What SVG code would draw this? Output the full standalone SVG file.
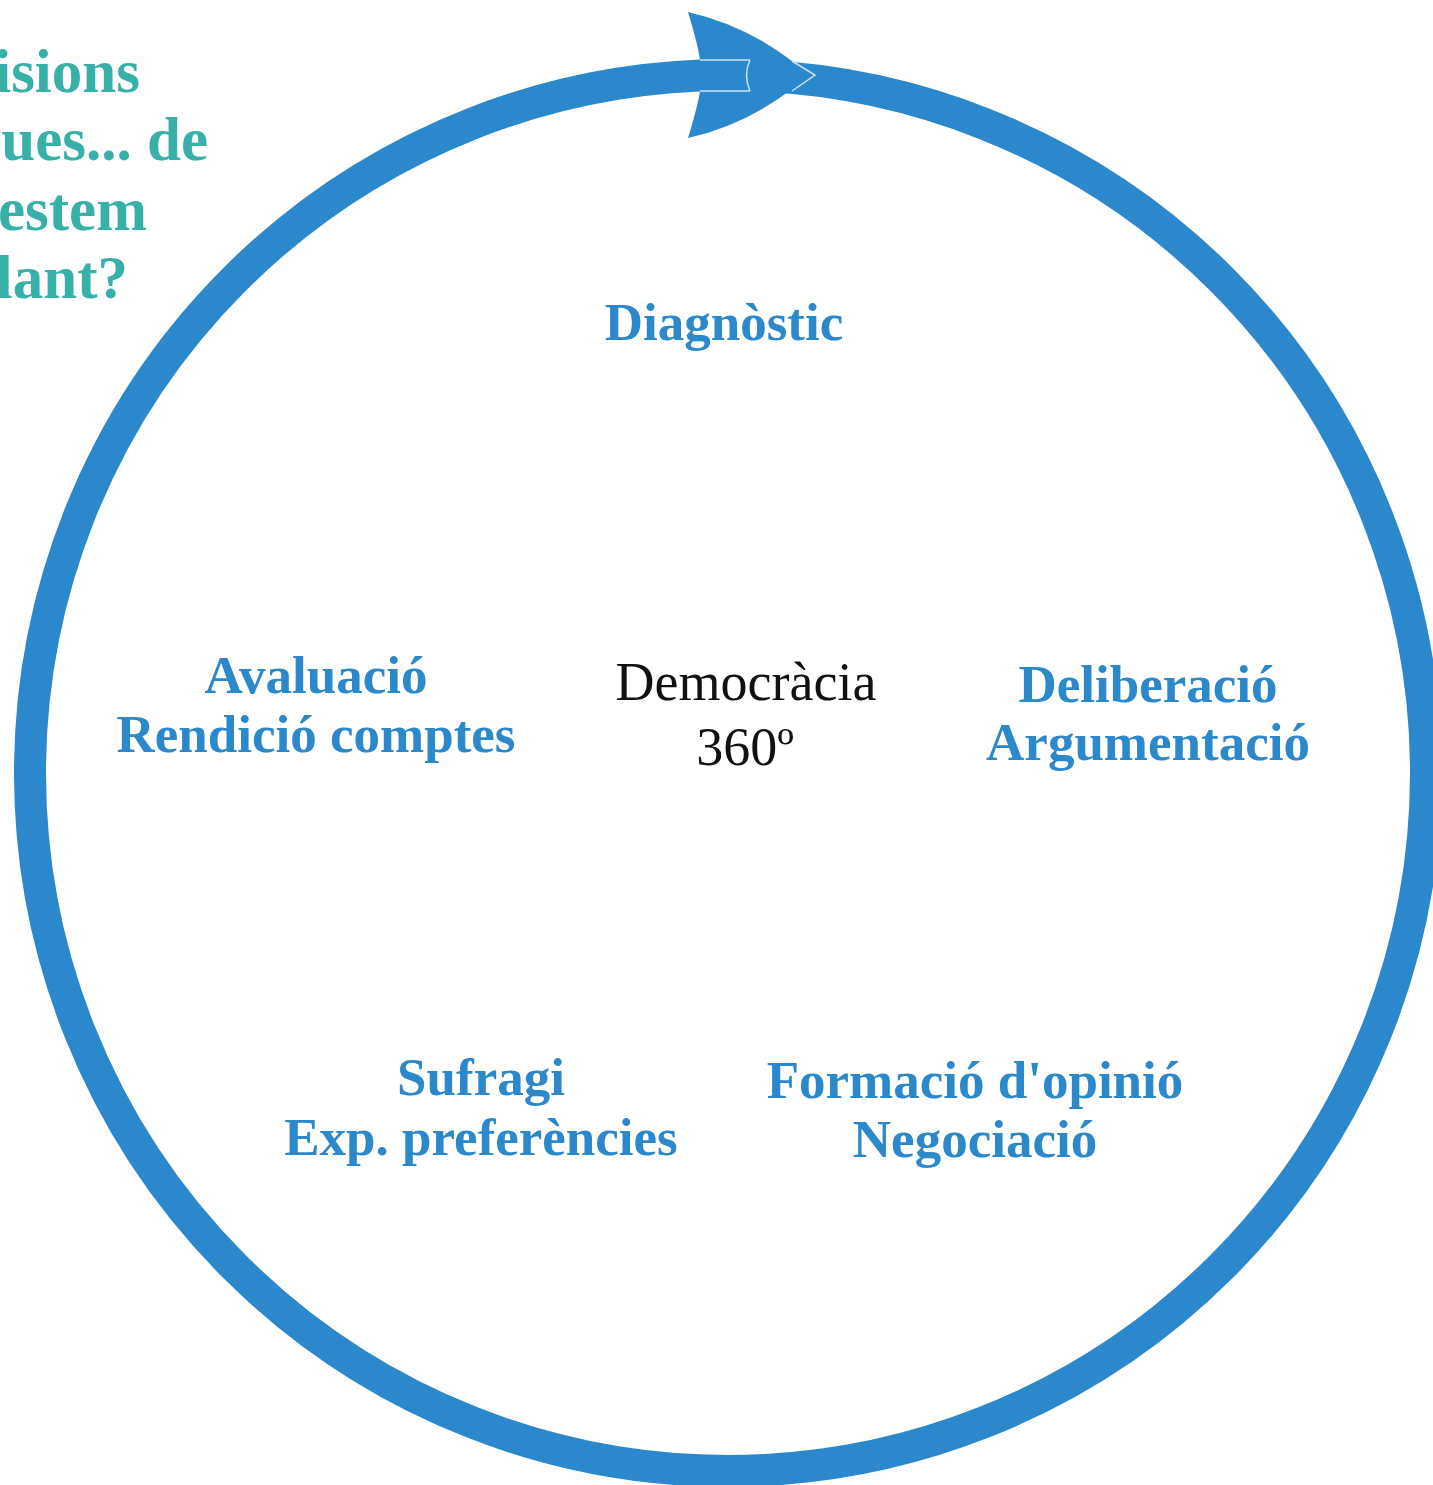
<svg xmlns="http://www.w3.org/2000/svg" width="1433" height="1485" viewBox="0 0 1433 1485">
<style>
.lbl{font-family:"Liberation Serif",serif;font-weight:bold;font-size:53px;fill:#2b88cb;text-anchor:middle}
.q{font-family:"Liberation Serif",serif;font-weight:bold;font-size:61px;fill:#36b0a8;text-anchor:end}
.ctr{font-family:"Liberation Serif",serif;font-size:54px;fill:#111;text-anchor:middle}
.seam{fill:none;stroke:#cfe2f2;stroke-width:1.5}
</style>
<rect width="1433" height="1485" fill="#fff"/>
<g id="question">
<text class="q" x="140" y="92">isions</text>
<text class="q" x="208" y="160">ues... de</text>
<text class="q" x="147" y="230">estem</text>
<text class="q" x="128" y="298">lant?</text>
</g>
<g id="connectors">
<circle cx="728" cy="773" r="698" fill="none" stroke="#2b88cc" stroke-width="32"/>
<path d="M688,12 Q745,25 792,61 L815,75 L792,89 Q745,125 688,138 Q698,105 700,91 L700,60 Q698,45 688,12 Z" fill="#2b88cc"/>
<path class="seam" d="M700,60 L750,60 M700,91 L750,91 M750,60 Q743,75 750,91 M792,61 L815,75 L792,91"/>
</g>
<g id="center"><text class="ctr" x="746" y="700">Democràcia</text><text class="ctr" x="745" y="765">360º</text></g>
<g id="diagnostic"><text class="lbl" x="724" y="340">Diagnòstic</text></g>
<g id="avaluacio"><text class="lbl" x="316" y="693">Avaluació</text><text class="lbl" x="316" y="752">Rendició comptes</text></g>
<g id="deliberacio"><text class="lbl" x="1148" y="702">Deliberació</text><text class="lbl" x="1148" y="760">Argumentació</text></g>
<g id="sufragi"><text class="lbl" x="481" y="1095">Sufragi</text><text class="lbl" x="481" y="1155">Exp. preferències</text></g>
<g id="formacio"><text class="lbl" x="975" y="1098">Formació d'opinió</text><text class="lbl" x="975" y="1157">Negociació</text></g>
</svg>
